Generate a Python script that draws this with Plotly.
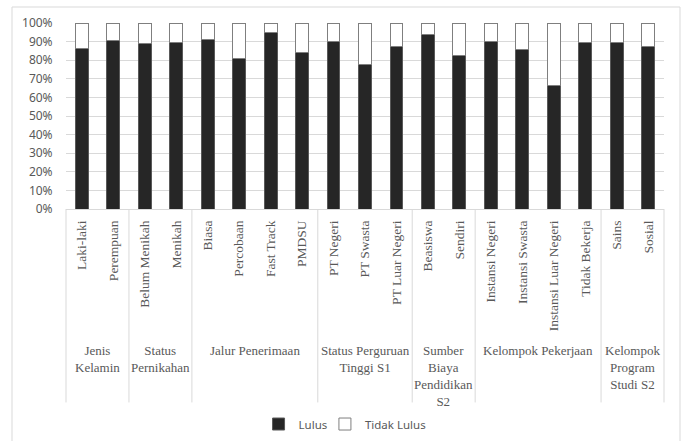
import plotly.graph_objects as go

# Categories, grouped by characteristic
groups = [
    ("Jenis<br>Kelamin", ["Laki-laki", "Perempuan"]),
    ("Status<br>Pernikahan", ["Belum Menikah", "Menikah"]),
    ("Jalur Penerimaan", ["Biasa", "Percobaan", "Fast Track", "PMDSU"]),
    ("Status Perguruan<br>Tinggi S1", ["PT Negeri", "PT Swasta", "PT Luar Negeri"]),
    ("Sumber<br>Biaya<br>Pendidikan<br>S2", ["Beasiswa", "Sendiri"]),
    ("Kelompok Pekerjaan", ["Instansi Negeri", "Instansi Swasta", "Instansi Luar Negeri", "Tidak Bekerja"]),
    ("Kelompok<br>Program<br>Studi S2", ["Sains", "Sosial"]),
]

# Share of graduates (Lulus) per category, in percent
lulus = [86.2, 90.7, 89.1, 89.4, 91.4, 80.8, 95.0, 84.0, 90.1, 77.8, 87.5,
         93.9, 82.6, 90.0, 85.8, 66.5, 89.4, 89.4, 87.5]
tidak_lulus = [100 - v for v in lulus]

categories = [c for _, cats in groups for c in cats]
xpos = list(range(len(categories)))
n = len(categories)

TEXT = "#595959"
GRID = "#d9d9d9"
SERIF = "Liberation Serif, Times New Roman, serif"
SANS = "Noto Sans, Liberation Sans, sans-serif"

fig = go.Figure()
fig.add_bar(x=xpos, y=[v / 100 for v in lulus], name="Lulus",
            marker=dict(color="#262626", line=dict(color="#595959", width=1)),
            width=0.41, legend="legend")
fig.add_bar(x=xpos, y=[v / 100 for v in tidak_lulus], name="Tidak Lulus",
            marker=dict(color="#ffffff", line=dict(color="#7f7f7f", width=1)),
            width=0.41, legend="legend2")


def px(v):
    # convert a category position to paper coordinates
    return (v + 0.5) / n


shapes = []
annotations = []
start = 0
bounds = [0]
for label, cats in groups:
    end = start + len(cats)
    bounds.append(end)
    annotations.append(dict(
        x=px((start + end - 1) / 2), y=-0.71, xref="paper", yref="paper",
        text=label, showarrow=False, xanchor="center", yanchor="top",
        align="center", font=dict(family=SERIF, size=13, color=TEXT)))
    start = end

for b in bounds:
    shapes.append(dict(type="line", xref="paper", yref="paper",
                       x0=px(b - 0.5), x1=px(b - 0.5), y0=0, y1=-1.04,
                       line=dict(color=GRID, width=1)))

# outer chart frame
shapes.append(dict(type="rect", xref="paper", yref="paper",
                   x0=(12 - 66) / 598, x1=(680 - 66) / 598,
                   y0=(209 - 445) / 186, y1=(209 - 7) / 186,
                   line=dict(color=GRID, width=1), fillcolor="rgba(0,0,0,0)",
                   layer="below"))

legend_style = dict(orientation="h", xanchor="left", yref="container",
                    y=0.0385, yanchor="middle", itemwidth=30,
                    bgcolor="rgba(0,0,0,0)",
                    font=dict(family=SANS, size=11.5, color=TEXT))

fig.update_layout(
    barmode="stack",
    width=683, height=441,
    margin=dict(l=66, r=19, t=23, b=232, autoexpand=False),
    plot_bgcolor="white", paper_bgcolor="white",
    shapes=shapes, annotations=annotations,
    showlegend=True,
    legend=dict(x=0.322, **legend_style),
    legend2=dict(x=0.433, **legend_style),
    xaxis=dict(
        range=[-0.5, n - 0.5], tickmode="array", tickvals=xpos,
        ticktext=categories, tickangle=-90, automargin=False,
        tickfont=dict(family=SERIF, size=13.5, color=TEXT),
        ticks="outside", ticklen=5, tickcolor="rgba(0,0,0,0)",
        showline=True, linecolor=GRID, linewidth=1, showgrid=False,
    ),
    yaxis=dict(
        range=[0, 1], dtick=0.1, tickformat=".0%", automargin=False,
        tickfont=dict(family=SANS, size=12, color=TEXT),
        showgrid=True, gridcolor=GRID, zeroline=False,
        ticks="outside", ticklen=10, tickcolor="rgba(0,0,0,0)",
    ),
)

fig.write_html("out.html")
